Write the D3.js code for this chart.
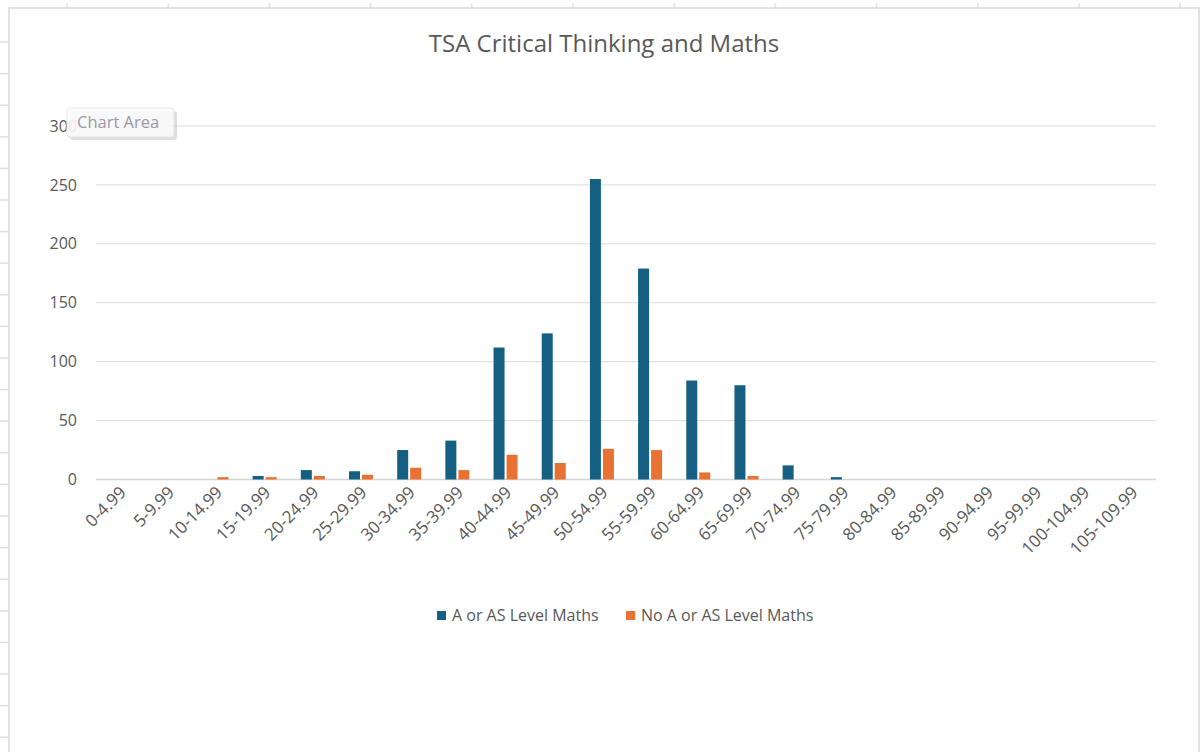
<!DOCTYPE html>
<html>
<head>
<meta charset="utf-8">
<script src="https://cdn.jsdelivr.net/npm/d3@7"></script>
<style>
  body { margin: 0; background: #ffffff; }
  text { font-family: "Open Sans", "Noto Sans", sans-serif; }
</style>
</head>
<body>
<div id="chart"></div>
<script>
// Score bands and counts
const categories = ['0-4.99', '5-9.99', '10-14.99', '15-19.99', '20-24.99', '25-29.99',
    '30-34.99', '35-39.99', '40-44.99', '45-49.99', '50-54.99', '55-59.99', '60-64.99',
    '65-69.99', '70-74.99', '75-79.99', '80-84.99', '85-89.99', '90-94.99', '95-99.99',
    '100-104.99', '105-109.99'];
const withMaths = [0, 0, 0, 3, 8, 7, 25, 33, 112, 124, 255, 179, 84, 80, 12, 2, 0, 0, 0, 0, 0, 0];
const withoutMaths = [0, 0, 2, 2, 3, 4, 10, 8, 21, 14, 26, 25, 6, 3, 0, 0, 0, 0, 0, 0, 0, 0];
const seriesNames = ['A or AS Level Maths', 'No A or AS Level Maths'];
const yTicks = [0, 50, 100, 150, 200, 250, 300];

const width = 1200;
const height = 752;
const colors = ['#156082', '#e97132'];
const textColor = '#595959';

const svg = d3.select('#chart')
    .append('svg')
    .attr('width', width)
    .attr('height', height);

// Spreadsheet grid marks peeking out around the chart frame
for (let x = 67; x < width; x += 101.2) {
    svg.append('line')
        .attr('x1', x).attr('x2', x).attr('y1', 3).attr('y2', 8)
        .attr('stroke', '#e0e0e0').attr('stroke-width', 1.5);
}
for (let y = 42; y < height; y += 31.6) {
    svg.append('line')
        .attr('x1', 0).attr('x2', 8).attr('y1', y).attr('y2', y)
        .attr('stroke', '#e0e0e0').attr('stroke-width', 1.5);
}

// Chart frame
svg.append('rect')
    .attr('x', 9)
    .attr('y', 8)
    .attr('width', 1190)
    .attr('height', 760)
    .attr('fill', '#ffffff')
    .attr('stroke', '#d9d9d9')
    .attr('stroke-width', 1.5);

// Title
svg.append('text')
    .attr('x', 604)
    .attr('y', 52)
    .attr('text-anchor', 'middle')
    .style('font-size', '24px')
    .style('fill', textColor)
    .text('TSA Critical Thinking and Maths');

const plot = { left: 96, right: 1156, top: 126, bottom: 479.5 };

const x = d3.scaleBand()
    .domain(categories)
    .range([plot.left, plot.right]);

const y = d3.scaleLinear()
    .domain([0, 300])
    .range([plot.bottom, plot.top]);

// Gridlines
svg.append('g')
    .selectAll('line')
    .data(yTicks)
    .enter()
    .append('line')
    .attr('x1', plot.left)
    .attr('x2', plot.right)
    .attr('y1', d => y(d))
    .attr('y2', d => y(d))
    .attr('stroke', d => d === 0 ? '#d4d4d4' : '#d9d9d9')
    .attr('stroke-width', d => d === 0 ? 1.5 : 1);

// Y axis labels
const yAxis = svg.append('g')
    .attr('transform', `translate(${plot.left}, 0)`)
    .call(d3.axisLeft(y).tickValues(yTicks).tickSize(0).tickPadding(19));
yAxis.select('.domain').remove();
yAxis.selectAll('text')
    .style('font-size', '16px')
    .style('font-family', '"Open Sans", sans-serif')
    .style('fill', textColor);

// X axis labels
const xAxis = svg.append('g')
    .attr('transform', `translate(0, ${plot.bottom})`)
    .call(d3.axisBottom(x).tickSize(0).tickPadding(0));
xAxis.select('.domain').remove();
xAxis.selectAll('text')
    .attr('text-anchor', 'end')
    .attr('dy', 0)
    .attr('transform', 'translate(7, 14) rotate(-45)')
    .style('font-size', '17px')
    .style('font-family', '"Open Sans", sans-serif')
    .style('fill', textColor);

// Bars
const barWidth = 11;
const series = [withMaths, withoutMaths];
series.forEach((values, s) => {
    svg.append('g')
        .selectAll('rect')
        .data(values.map((v, i) => ({ cat: categories[i], value: v })))
        .enter()
        .append('rect')
        .attr('x', d => x(d.cat) + x.bandwidth() / 2 + (s === 0 ? -barWidth - 1 : 1))
        .attr('y', d => y(d.value))
        .attr('width', barWidth)
        .attr('height', d => y(0) - y(d.value))
        .attr('fill', colors[s]);
});

// Legend
const legendItems = [
    { name: seriesNames[0], color: colors[0], x: 437 },
    { name: seriesNames[1], color: colors[1], x: 626 }
];
const legend = svg.append('g');
legend.selectAll('rect')
    .data(legendItems)
    .enter()
    .append('rect')
    .attr('x', d => d.x)
    .attr('y', 611)
    .attr('width', 9)
    .attr('height', 9)
    .attr('fill', d => d.color);
legend.selectAll('text')
    .data(legendItems)
    .enter()
    .append('text')
    .attr('x', d => d.x + 15)
    .attr('y', 621)
    .style('font-size', '16px')
    .style('fill', textColor)
    .text(d => d.name);

// "Chart Area" hover tooltip
const tip = svg.append('g');
tip.append('rect')
    .attr('x', 70).attr('y', 111)
    .attr('width', 107).attr('height', 29)
    .attr('rx', 3)
    .attr('fill', '#bdbdbd')
    .attr('opacity', 0.5);
tip.append('rect')
    .attr('x', 67).attr('y', 108)
    .attr('width', 107).attr('height', 29)
    .attr('rx', 3)
    .attr('fill', '#fdfdfd')
    .attr('fill-opacity', 0.85)
    .attr('stroke', '#e6e6e6');
tip.append('text')
    .attr('x', 77)
    .attr('y', 128)
    .style('font-size', '16.5px')
    .style('fill', '#9a98a6')
    .text('Chart Area');
</script>
</body>
</html>
